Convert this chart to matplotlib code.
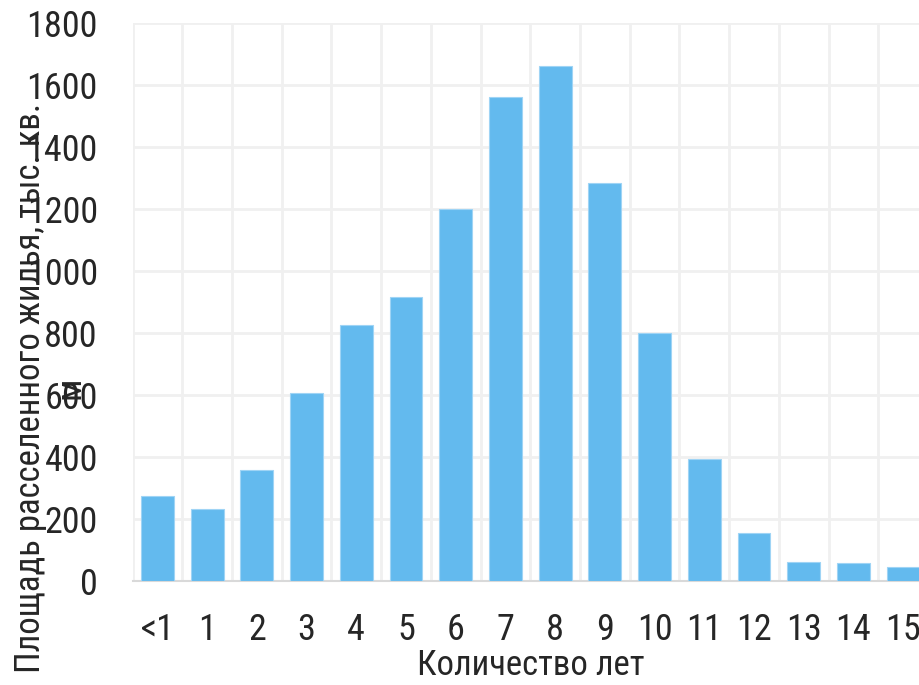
import matplotlib
matplotlib.use("Agg")
import matplotlib.pyplot as plt
from matplotlib.ticker import MultipleLocator

plt.rcParams["font.family"] = ["Roboto Condensed", "DejaVu Sans"]

# ── data ─────────────────────────────────────────────
categories = ["<1", "1", "2", "3", "4", "5", "6", "7", "8", "9",
              "10", "11", "12", "13", "14", "15"]
area = [275, 231, 357, 606, 826, 917, 1201, 1562, 1660, 1283,
        799, 393, 154, 62, 58, 44]

BAR = "#63BAEE"
TEXT = "#262626"

fig = plt.figure(figsize=(9.2, 6.85), dpi=100)
# plot area runs a little past the right edge of the figure
ax = fig.add_axes([0.1441, 0.1518, 0.8646, 0.8146])

x = range(len(categories))
ax.bar(x, area, width=0.66, color=BAR, edgecolor="#9fd4f5", linewidth=0.8, zorder=3)

ax.set_xlim(-0.5, len(categories) - 0.5)
ax.set_ylim(0, 1800)
ax.yaxis.set_major_locator(MultipleLocator(200))
ax.set_xticks(list(x))
ax.set_xticklabels(categories)
ax.xaxis.set_minor_locator(MultipleLocator(1, offset=0.5))

ax.grid(axis="y", which="major", color="#f0f0f0", lw=2, zorder=0)
ax.grid(axis="x", which="minor", color="#f0f0f0", lw=2, zorder=0)
ax.tick_params(axis="both", which="both", length=0, labelsize=26, colors=TEXT)
ax.tick_params(axis="y", pad=25)
ax.tick_params(axis="x", pad=22)

for s in ("top", "right", "left"):
    ax.spines[s].set_visible(False)
ax.spines["bottom"].set_color("#d9d9d9")
ax.spines["bottom"].set_linewidth(1.5)

ax.set_xlabel("Количество лет", fontsize=25, color=TEXT, labelpad=1)
fig.text(0.055, 1 - 388 / 685, "Площадь расселенного жилья, тыс. кв.\nм",
         rotation=90, ha="center", va="center", multialignment="center",
         fontsize=25, color=TEXT, linespacing=1.25)

fig.savefig("out.png", dpi=100)
